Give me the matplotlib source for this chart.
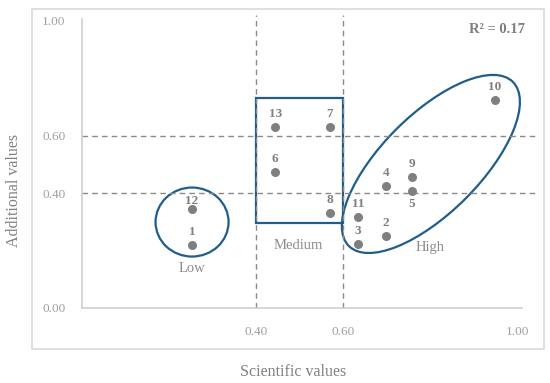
"""
Scientific vs additional values scatter with Low / Medium / High groups
"""

import matplotlib

matplotlib.use("Agg")
import matplotlib.pyplot as plt
from matplotlib.patches import Ellipse, Rectangle
from matplotlib.transforms import Affine2D

# Data
ids = ["1", "2", "3", "4", "5", "6", "7", "8", "9", "10", "11", "12", "13"]
scientific = [0.253, 0.699, 0.634, 0.699, 0.759, 0.444, 0.570, 0.570, 0.759, 0.949, 0.634, 0.253, 0.444]
additional = [0.219, 0.250, 0.223, 0.424, 0.407, 0.473, 0.630, 0.330, 0.456, 0.723, 0.317, 0.344, 0.630]
below_labels = ["5"]

x_ticks = [0.40, 0.60, 1.00]
y_ticks = [0.00, 0.40, 0.60, 1.00]
thresholds = [0.40, 0.60]
r2_text = "R² = 0.17"
x_label = "Scientific values"
y_label = "Additional values"

# group shapes: centre, size in pixels, angle
groups = ["Low", "Medium", "High"]
low_centre = (0.253, 0.299)
low_size_px = (73, 69)
medium_box = (0.40, 0.296, 0.20, 0.434)
high_centre = (0.802, 0.501)
high_size_px = (232, 98)
high_angle = 45
group_label_pos = [(0.253, 0.136), (0.497, 0.219), (0.80, 0.212)]

# Style
plt.rcParams["font.family"] = ["Liberation Serif", "DejaVu Serif"]
blue = "#215d8a"
grey = "#7f7f7f"
light = "#d9d9d9"

W, H = 550, 383
fig = plt.figure(figsize=(W / 100, H / 100), dpi=100)

# outer chart border
fig.patches.append(
    Rectangle((32 / W, 34 / H), 512 / W, 340 / H, transform=fig.transFigure,
              fill=False, edgecolor=light, linewidth=1.2)
)

ax = fig.add_axes([82 / W, 75 / H, 440 / W, 289 / H])
xmax, ymax = 440 / 435, 289 / 287.5
ax.set_xlim(0, xmax)
ax.set_ylim(0, ymax)
px_x, px_y = 440 / xmax, 289 / ymax  # pixels per data unit

for side in ["top", "right"]:
    ax.spines[side].set_visible(False)
for side in ["left", "bottom"]:
    ax.spines[side].set_color("#cfcfcf")
    ax.spines[side].set_linewidth(1.2)

ax.set_xticks(x_ticks)
ax.set_xticklabels([f"{v:.2f}" for v in x_ticks])
ax.set_yticks(y_ticks)
ax.set_yticklabels([f"{v:.2f}" for v in y_ticks])
ax.tick_params(axis="x", length=0, pad=13, labelsize=9.5, labelcolor="#a0a0a0")
ax.tick_params(axis="y", length=0, pad=12, labelsize=9.5, labelcolor="#a0a0a0")

# threshold lines
for t in thresholds:
    ax.plot([t, t], [0, 1.02], ls="--", color="#8a8a8a", lw=1, dashes=(4, 3), clip_on=False)
    ax.plot([0, 1.048], [t, t], ls="--", color="#8a8a8a", lw=1, dashes=(4, 3), clip_on=False)

# points and numbers
ax.scatter(scientific, additional, s=30, color=grey, zorder=3, clip_on=False)
for label, x, y in zip(ids, scientific, additional):
    dy = -9.5 if label in below_labels else (6 if label == "12" else 9.5)
    ax.annotate(label, (x, y), xytext=(0, dy), textcoords="offset points",
                ha="center", va="center", fontsize=9.5, fontweight="bold", color=grey)

# group shapes (sizes given in pixels, mapped to data)
def px_ellipse(centre, size, angle):
    tr = Affine2D().scale(1 / px_x, 1 / px_y).translate(*centre) + ax.transData
    return Ellipse((0, 0), size[0], size[1], angle=angle, transform=tr,
                   fill=False, edgecolor=blue, linewidth=1.6, clip_on=False)

ax.add_patch(px_ellipse(low_centre, low_size_px, 0))
ax.add_patch(Rectangle(medium_box[:2], medium_box[2], medium_box[3],
                       fill=False, edgecolor=blue, linewidth=1.6))
ax.add_patch(px_ellipse(high_centre, high_size_px, high_angle))

for name, (x, y) in zip(groups, group_label_pos):
    ax.text(x, y, name, ha="center", va="center", fontsize=10.5, color="#8c8c8c")

ax.text(0.955, 0.97, r2_text, ha="center", va="center", fontsize=10.5,
        fontweight="bold", color=grey)

fig.text(293 / W, 1 - 372 / H, x_label, ha="center", va="center", fontsize=11.5, color="#808080")
fig.text(14 / W, 1 - 190 / H, y_label, ha="center", va="center", rotation=90,
         fontsize=11.5, color="#808080")

plt.savefig("out.png", dpi=100)
